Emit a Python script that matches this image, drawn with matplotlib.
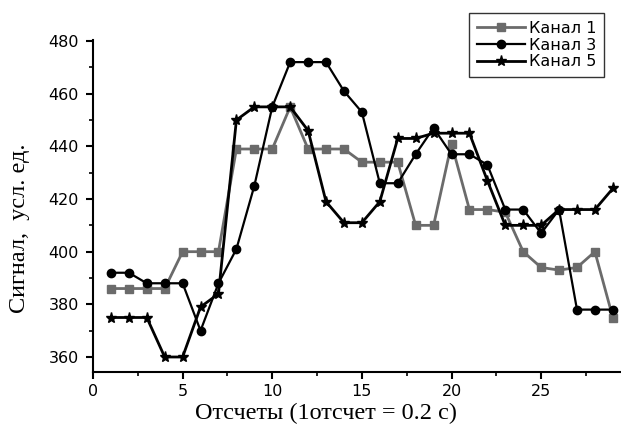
import numpy as np
import matplotlib
matplotlib.use("Agg")
import matplotlib.pyplot as plt
from matplotlib.ticker import MultipleLocator

# Данные (отсчеты 1..29)
samples = list(range(1, 30))
kanal_1 = [386, 386, 386, 386, 400, 400, 400, 439, 439, 439, 455, 439, 439, 439, 434,
           434, 434, 410, 410, 441, 416, 416, 415, 400, 394, 393, 394, 400, 375]
kanal_3 = [392, 392, 388, 388, 388, 370, 388, 401, 425, 455, 472, 472, 472, 461, 453,
           426, 426, 437, 447, 437, 437, 433, 416, 416, 407, 416, 378, 378, 378]
kanal_5 = [375, 375, 375, 360, 360, 379, 384, 450, 455, 455, 455, 446, 419, 411, 411,
           419, 443, 443, 445, 445, 445, 427, 410, 410, 410, 416, 416, 416, 424]
x_ticks = [0, 5, 10, 15, 20, 25]
y_ticks = [360, 380, 400, 420, 440, 460, 480]

plt.rcParams['font.family'] = ['DejaVu Sans']
serif = ['Liberation Serif', 'DejaVu Serif']

fig = plt.figure(figsize=(6.21, 4.30), dpi=100)
ax = fig.add_axes([93 / 621, 1 - 372 / 430, 1 - 93 / 621 - 1 / 621, (372 - 40) / 430])

ax.plot(samples, kanal_1, color='#6b6b6b', lw=2.0, marker='s', ms=5.5, label='Канал 1')
ax.plot(samples, kanal_3, color='black', lw=1.6, marker='o', ms=6, label='Канал 3')
ax.plot(samples, kanal_5, color='black', lw=2.0, marker='*', ms=8, label='Канал 5')

ax.set_xlim(0, 29.4)
ax.set_ylim(354.3, 480.4)
ax.set_xticks(x_ticks)
ax.set_yticks(y_ticks)
ax.xaxis.set_minor_locator(MultipleLocator(2.5))
ax.yaxis.set_minor_locator(MultipleLocator(10))
ax.tick_params(which='major', direction='out', length=5, width=1.5, labelsize=11.5)
ax.tick_params(axis='y', which='major', pad=5)
ax.tick_params(axis='x', which='major', pad=4)
ax.tick_params(which='minor', direction='out', length=3, width=1.2)

for side in ['top', 'right']:
    ax.spines[side].set_visible(False)
for side in ['left', 'bottom']:
    ax.spines[side].set_linewidth(1.5)

ax.set_xlabel('Отсчеты (1отсчет = 0.2 с)', family=serif, fontsize=17.5,
              ha='center', va='center')
ax.xaxis.set_label_coords(0.442, -0.125)
ax.set_ylabel('Сигнал,  усл. ед.', family=serif, fontsize=17.5,
              ha='center', va='center', rotation_mode='anchor')
ax.yaxis.set_label_coords(-0.139, 0.434)

leg = fig.legend(loc='upper right', bbox_to_anchor=(604 / 621, 1 - 13 / 430),
                 fancybox=False, frameon=True, edgecolor='black', fontsize=11.5,
                 handlelength=3.0, borderpad=0.5, labelspacing=0.1, handletextpad=0.2,
                 borderaxespad=0)
leg.get_frame().set_linewidth(1.0)

fig.savefig('out.png', dpi=100)
